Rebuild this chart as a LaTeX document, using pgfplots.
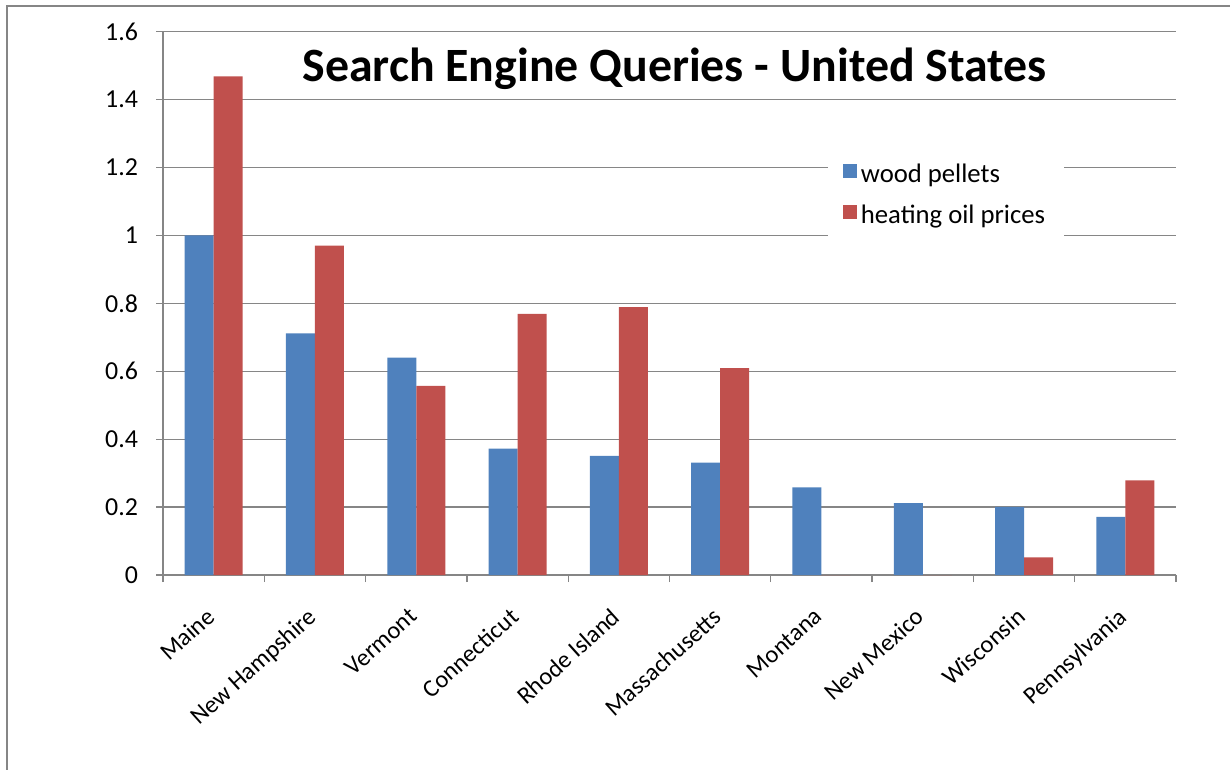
\documentclass[border=0pt]{standalone}
\usepackage{fontspec}
\setmainfont{Carlito}
\usepackage{pgfplots}
\pgfplotsset{compat=1.18}
\definecolor{cblue}{RGB}{79,129,189}
\definecolor{cred}{RGB}{192,80,77}
\definecolor{cgrid}{RGB}{134,134,134}
\begin{document}
\begin{tikzpicture}
\useasboundingbox (0,0) rectangle (615bp,385bp);
\draw[cgrid, line width=0.75bp] (3.5bp,0) -- (3.5bp,382bp) -- (615bp,382bp);
\begin{axis}[
  at={(81.5bp,97.5bp)}, anchor=south west,
  scale only axis, width=506.5bp, height=271.6bp,
  ymin=0, ymax=1.6, ytick={0,0.2,0.4,0.6,0.8,1.0,1.2,1.4,1.6},
  yticklabels={0,0.2,0.4,0.6,0.8,1,1.2,1.4,1.6},
  xmin=-0.5, xmax=9.5,
  xtick={-0.5,0.5,1.5,2.5,3.5,4.5,5.5,6.5,7.5,8.5,9.5},
  x tick label as interval,
  xticklabels={Maine,New Hampshire,Vermont,Connecticut,Rhode Island,Massachusetts,Montana,New Mexico,Wisconsin,Pennsylvania},
  axis x line=bottom, axis y line=left,
  axis line style={-, draw=cgrid, line width=0.65bp},
  ymajorgrids, grid style={cgrid, line width=0.65bp},
  tick align=outside, major tick length=3.5bp,
  tick style={cgrid, line width=0.65bp},
  ybar=0pt, bar width=14.5bp,
  /pgf/number format/assume math mode=true,
  ticklabel style={font=\fontsize{13}{15}\selectfont},
  xticklabel style={rotate=42, anchor=north east, xshift=-8bp, yshift=-2.8bp, font=\fontsize{12.3}{14}\selectfont},
  yticklabel style={xshift=-5.5bp},
  legend style={at={(rel axis cs:0.656,0.775)}, anchor=north west, draw=none, fill=white,
    font=\fontsize{13.4}{16}\selectfont, row sep=5.5bp, inner xsep=7.5bp, inner ysep=3bp},
  legend cell align=left,
  legend image code/.code={\fill[#1] (0bp,-1.5bp) rectangle (7bp,5.5bp);},
  clip=false,
]
\addplot[fill=cblue, draw=none] coordinates {(0,1.00) (1,0.712) (2,0.64) (3,0.372) (4,0.351) (5,0.331) (6,0.258) (7,0.212) (8,0.201) (9,0.171)};
\addplot[fill=cred, draw=none] coordinates {(0,1.469) (1,0.97) (2,0.557) (3,0.769) (4,0.789) (5,0.609) (6,0) (7,0) (8,0.052) (9,0.279)};
\legend{wood pellets, heating oil prices}
\node[anchor=base, font=\fontsize{24}{29}\selectfont\bfseries] at (rel axis cs:0.505,0.908) {Search Engine Queries - United States};
\end{axis}
\end{tikzpicture}
\end{document}
